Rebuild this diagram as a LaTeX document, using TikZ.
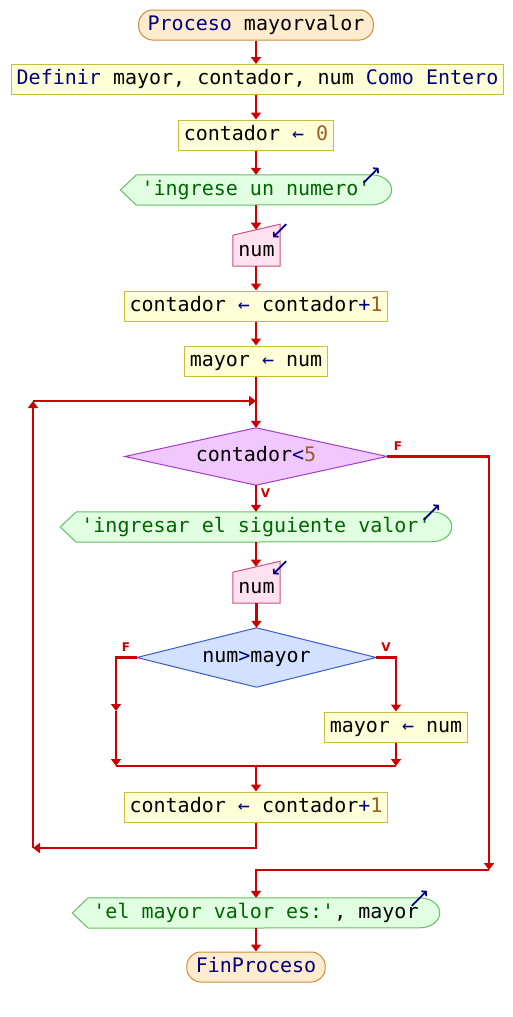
\documentclass[tikz,border=0pt]{standalone}
\usepackage{fontspec}
\usetikzlibrary{arrows.meta,calc}
\newfontfamily\pf{DejaVu Sans Mono}
\newfontfamily\lf{DejaVu Sans}
\definecolor{kw}{RGB}{0,0,128}
\definecolor{strc}{RGB}{0,100,0}
\definecolor{numc}{RGB}{160,90,40}
\definecolor{flowR}{RGB}{204,0,0}
\definecolor{termF}{RGB}{255,235,205}
\definecolor{termB}{RGB}{200,140,60}
\definecolor{procF}{RGB}{255,255,215}
\definecolor{procB}{RGB}{200,190,60}
\definecolor{outF}{RGB}{225,255,225}
\definecolor{outB}{RGB}{100,190,100}
\definecolor{inF}{RGB}{255,225,240}
\definecolor{inB}{RGB}{200,80,130}
\definecolor{dAF}{RGB}{240,200,255}
\definecolor{dAB}{RGB}{160,60,200}
\definecolor{dBF}{RGB}{210,225,255}
\definecolor{dBB}{RGB}{60,90,200}
\pgfdeclarelayer{bg}\pgfsetlayers{bg,main}
\begin{document}
\begin{tikzpicture}[x=1pt,y=-1pt,
  every node/.style={font=\pf\fontsize{20}{24}\selectfont, text height=14pt, text depth=4pt},
  flow/.style={draw=flowR, line width=2.4pt, -{Triangle[width=10pt,length=7pt]}},
  plain/.style={draw=flowR, line width=2.4pt},
  term/.style={draw=termB, fill=termF, line width=1pt, rounded corners=14pt, minimum height=30pt, inner xsep=9pt, text=kw},
  proc/.style={draw=procB, fill=procF, line width=1pt, minimum height=30pt, inner xsep=5pt},
  outn/.style={minimum height=30pt, inner xsep=21pt, inner ysep=0pt},
  inn/.style={minimum height=29pt, minimum width=47pt, inner sep=0pt},
  dec/.style={inner sep=0pt},
  icon/.style={draw=kw, line width=1.8pt, -{Straight Barb[length=3pt,width=7pt]}},
  lab/.style={font=\lf\bfseries\fontsize{12}{14}\selectfont, text=flowR, text height=9pt, text depth=0pt, inner sep=0pt}]
\useasboundingbox (0,0) rectangle (512,1017);

% nodes
\node[term] (t1) at (256,25) {Proceso \textcolor{black}{mayorvalor}};
\node[proc] (p1) at (257.5,79.5) {\textcolor{kw}{Definir} mayor, contador, num \textcolor{kw}{Como Entero}};
\node[proc] (p2) at (256,135) {contador \textcolor{kw}{←} \textcolor{numc}{0}};
\node[outn] (o1) at (256,190) {\textcolor{strc}{'ingrese un numero'}};
\node[inn] (i1) at (256.5,251.5) {num};
\node[proc] (p3) at (256,306) {contador \textcolor{kw}{←} contador\textcolor{kw}{+}\textcolor{numc}{1}};
\node[proc] (p4) at (256,361) {mayor \textcolor{kw}{←} num};
\node[dec, minimum width=262pt, minimum height=57pt] (d1) at (256,456.5) {contador\textcolor{kw}{<}\textcolor{numc}{5}};
\node[outn] (o2) at (256,527) {\textcolor{strc}{'ingresar el siguiente valor'}};
\node[inn] (i2) at (256.5,588.5) {num};
\node[dec, minimum width=239pt, minimum height=59pt] (d2) at (256.5,657.5) {num\textcolor{kw}{>}mayor};
\node[proc] (p5) at (396,727) {mayor \textcolor{kw}{←} num};
\node[proc] (p6) at (256,807) {contador \textcolor{kw}{←} contador\textcolor{kw}{+}\textcolor{numc}{1}};
\node[outn] (o3) at (256,913) {\textcolor{strc}{'el mayor valor es:'}, mayor};
\node[term] (t2) at (256,967) {FinProceso};

% labels
\node[lab] (lf1) at (398,446) {F};
\node[lab] (lv1) at (265.5,493) {V};
\node[lab] (lf2) at (126,647) {F};
\node[lab] (lv2) at (386,647) {V};

% shapes on background
\begin{pgfonlayer}{bg}
\fill[white] (0,0) rectangle (512,1017);
\foreach \o in {o1,o2,o3}{
  \filldraw[fill=outF, draw=outB, line width=1pt]
    ([xshift=16pt]\o.north west) -- ([xshift=-20pt]\o.north east)
    arc[start angle=90, end angle=-90, x radius=20pt, y radius=15pt]
    -- ([xshift=16pt]\o.south west) -- (\o.west) -- cycle;
}
\foreach \i in {i1,i2}{
  \filldraw[fill=inF, draw=inB, line width=1pt]
    (\i.south west) -- (\i.south east) -- ([yshift=42pt]\i.south east)
    -- ([yshift=31pt]\i.south west) -- cycle;
}
\filldraw[fill=dAF, draw=dAB, line width=1pt] (d1.west) -- (d1.north) -- (d1.east) -- (d1.south) -- cycle;
\filldraw[fill=dBF, draw=dBB, line width=1pt] (d2.west) -- (d2.north) -- (d2.east) -- (d2.south) -- cycle;
\end{pgfonlayer}

% icons
\foreach \o in {o1,o2,o3}{
  \draw[icon] ($(\o.north east)+(-28,8)$) -- ++(15,-15);
}
\foreach \i in {i1,i2}{
  \draw[icon] ($([yshift=42pt]\i.south east)+(6,0)$) -- ++(-13,13);
}

% coordinates
\coordinate (i1top) at ([yshift=36.5pt]i1.south);
\coordinate (i2top) at ([yshift=36.5pt]i2.south);
\coordinate (c1) at (33,848);
\coordinate (c2) at (33,401);
\coordinate (c3) at (256,401);
\coordinate (c4) at (489,870);
\coordinate (c5) at (116,711);
\coordinate (c6) at (116,766);
\coordinate (c7) at (396,766);
\coordinate (c8) at (256,766);

% connectors
\draw[flow] (t1.south) -- (p1.north -| t1.south);
\draw[flow] (p1.south -| p2.north) -- (p2.north);
\draw[flow] (p2.south) -- (o1.north);
\draw[flow] (o1.south) -- (i1top -| o1.south);
\draw[flow] (i1.south -| p3.north) -- (p3.north);
\draw[flow] (p3.south) -- (p4.north);
\draw[flow] (p4.south) -- (d1.north);
\draw[flow] (d1.south) -- (o2.north);
\draw[flow] (o2.south) -- (i2top -| o2.south);
\draw[flow] (i2.south -| d2.north) -- (d2.north);
\draw[flow] (d2.east) -| (p5.north);
\draw[flow] (p5.south) -- (c7);
\draw[flow] (d2.west) -| (c5);
\draw[flow] (c5) -- (c6);
\draw[plain] (c6) -- (c7);
\draw[flow] (c8) -- (p6.north);
\draw[flow] (p6.south) |- (c1);
\draw[flow] (c1) -- (c2);
\draw[flow] (c2) -- (c3);
\draw[flow] (d1.east) -| (c4);
\draw[flow] (c4) -| (o3.north);
\draw[flow] (o3.south) -- (t2.north);
\end{tikzpicture}
\end{document}
